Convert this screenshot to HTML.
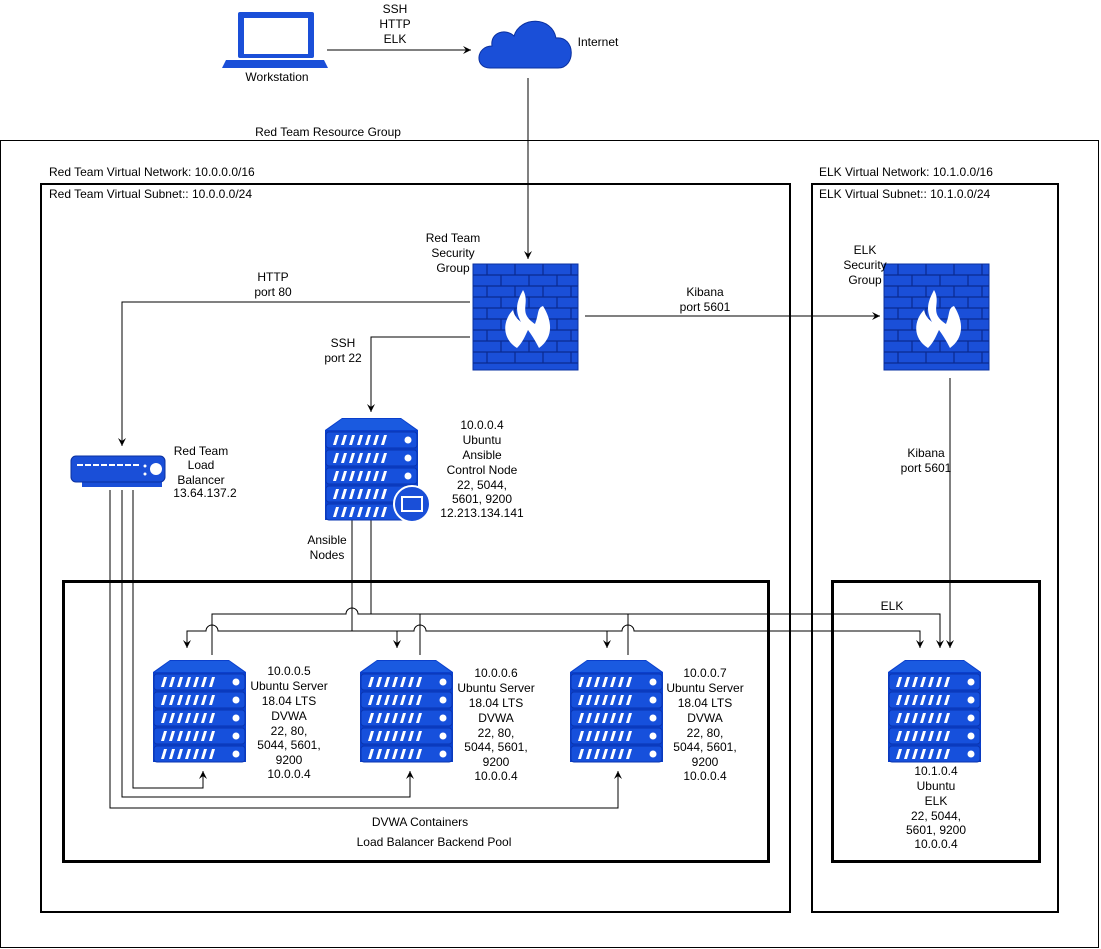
<!DOCTYPE html>
<html><head><meta charset="utf-8"><style>
body{margin:0;background:#fff}
svg{display:block}
text{font-family:"Liberation Sans",sans-serif;font-size:12px;fill:#000;text-anchor:middle}
</style></head><body>
<svg width="1101" height="949" viewBox="0 0 1101 949">
<defs>
<marker id="a" markerWidth="10" markerHeight="10" refX="5" refY="8" orient="auto-start-reverse" markerUnits="userSpaceOnUse" viewBox="0 0 10 10"><path d="M1,0 L5,9 L9,0 L5,3 Z" fill="#000" transform="rotate(0)"/></marker>
<marker id="d" markerWidth="10" markerHeight="10" refX="5" refY="9" orient="0" markerUnits="userSpaceOnUse"><path d="M1,1 L5,9 L9,1 L5,4 Z" fill="#000"/></marker>
<marker id="u" markerWidth="10" markerHeight="10" refX="5" refY="1" orient="0" markerUnits="userSpaceOnUse"><path d="M1,9 L5,1 L9,9 L5,6 Z" fill="#000"/></marker>
<marker id="r" markerWidth="10" markerHeight="10" refX="9" refY="5" orient="0" markerUnits="userSpaceOnUse"><path d="M1,1 L9,5 L1,9 L4,5 Z" fill="#000"/></marker>
<g id="srv">
<path d="M17,0 H76 L93,12 V102 H0 V12 Z" fill="#0a3fcc"/>
<path d="M17,1 H76 L91,12 H2 Z" fill="#1a5ae0"/>
<g fill="#fff">
<g id="row"><rect x="1" y="14" width="91" height="16" rx="3" fill="#1650dc" stroke="#0a35b0"/>
<path d="M8,27 l3,-10 h3 l-3,10z M16,27 l3,-10 h3 l-3,10z M24,27 l3,-10 h3 l-3,10z M32,27 l3,-10 h3 l-3,10z M40,27 l3,-10 h3 l-3,10z M48,27 l3,-10 h3 l-3,10z M56,27 l3,-10 h3 l-3,10z"/>
<circle cx="83" cy="22" r="3.5"/></g>
<use href="#row" y="18"/><use href="#row" y="36"/><use href="#row" y="54"/><use href="#row" y="72"/>
</g></g>
<g id="fw">
<rect width="105" height="106" fill="#1a4fd8" stroke="#0a30a0"/>
<g stroke="#0a2a90" stroke-width="1.2" fill="none">
<path d="M0,11H105M0,22H105M0,33H105M0,44H105M0,55H105M0,66H105M0,77H105M0,88H105M0,99H105"/>
<path d="M14,0V11M42,0V11M70,0V11M98,0V11M28,11V22M56,11V22M84,11V22M14,22V33M42,22V33M70,22V33M98,22V33M28,33V44M56,33V44M84,33V44M14,44V55M42,44V55M70,44V55M98,44V55M28,55V66M56,55V66M84,55V66M14,66V77M42,66V77M70,66V77M98,66V77M28,77V88M56,77V88M84,77V88M14,88V99M42,88V99M70,88V99M98,88V99"/>
</g>
<path d="M50,26 C58,40 44,48 62,60 C66,50 64,44 70,42 C80,58 80,74 66,84 C62,76 58,70 55,66 C52,72 50,78 44,84 C28,74 30,56 40,46 C42,54 46,56 48,58 C40,44 46,34 50,26Z" fill="#fff"/>
</g>
</defs>

<!-- containers -->
<rect x="0.5" y="140.5" width="1098" height="807" fill="none" stroke="#000"/>
<rect x="41" y="184" width="749" height="728" fill="none" stroke="#000" stroke-width="2"/>
<rect x="812" y="184" width="246" height="728" fill="none" stroke="#000" stroke-width="2"/>
<rect x="63.5" y="581.5" width="705" height="280" fill="none" stroke="#000" stroke-width="3"/>
<rect x="832.5" y="581.5" width="207" height="280" fill="none" stroke="#000" stroke-width="3"/>

<text x="328" y="136">Red Team Resource Group</text>
<text x="49" y="176" style="text-anchor:start">Red Team Virtual Network: 10.0.0.0/16</text>
<text x="49" y="198" style="text-anchor:start">Red Team Virtual Subnet:: 10.0.0.0/24</text>
<text x="819" y="176" style="text-anchor:start">ELK Virtual Network: 10.1.0.0/16</text>
<text x="819" y="198" style="text-anchor:start">ELK Virtual Subnet:: 10.1.0.0/24</text>

<!-- laptop -->
<g fill="#1a4fd8">
<rect x="238" y="12" width="76" height="46" rx="2"/>
<rect x="244" y="18" width="64" height="36" fill="#fff"/>
<path d="M226,60 H324 L328,68 H222 Z"/>
</g>
<text x="277" y="81">Workstation</text>
<!-- cloud -->
<path d="M490,68 C474,68 476,46 492,46 C490,32 506,28 514,36 C520,16 552,16 556,38 C576,36 576,68 558,68 Z" fill="#1a4fd8" stroke="#0a30a0"/>
<text x="598" y="46">Internet</text>
<text x="395" y="13">SSH</text><text x="395" y="28">HTTP</text><text x="395" y="43">ELK</text>
<line x1="327" y1="50" x2="471" y2="50" stroke="#000" marker-end="url(#r)"/>
<line x1="528" y1="78" x2="528" y2="259" stroke="#000" marker-end="url(#d)"/>

<use href="#fw" x="473" y="264"/>
<use href="#fw" x="884" y="264"/>
<text x="453" y="242">Red Team</text><text x="453" y="257">Security</text><text x="453" y="272">Group</text>
<text x="865" y="254">ELK</text><text x="865" y="269">Security</text><text x="865" y="269" dy="0"> </text><text x="865" y="269" dy="15">Group</text>

<g stroke="#000" fill="none">
<path d="M470,302 H122 V446" marker-end="url(#d)"/>
<path d="M470,337 H371 V412" marker-end="url(#d)"/>
<path d="M585,316 H880" marker-end="url(#r)"/>
<path d="M950,378 V648" marker-end="url(#d)"/>
<!-- LB lines -->
<path d="M133,490 V788 H203 V771" marker-end="url(#u)"/>
<path d="M122,490 V797 H410 V771" marker-end="url(#u)"/>
<path d="M110,490 V808 H618 V771" marker-end="url(#u)"/>
<!-- ansible lines -->
<path d="M352,520 V631"/>
<path d="M371,520 V614 H940 V648" marker-end="url(#d)"/>
<path d="M212,655 V614 H346 A6,6 0 0 1 358,614 H371"/>
<path d="M187,648 V631 H206 A6,6 0 0 1 218,631 H414 A6,6 0 0 1 426,631 H622 A6,6 0 0 1 634,631 H920 V648" marker-end="url(#d)"/>
<path d="M187,631 V648" marker-end="url(#d)"/>
<path d="M397,631 V648" marker-end="url(#d)"/>
<path d="M607,631 V648" marker-end="url(#d)"/>
<path d="M420,614 V655"/>
<path d="M628,614 V655"/>
</g>
<text x="273" y="281">HTTP</text><text x="273" y="296">port 80</text>
<text x="343" y="347">SSH</text><text x="343" y="362">port 22</text>
<text x="705" y="296">Kibana</text><text x="705" y="311">port 5601</text>
<text x="926" y="457">Kibana</text><text x="926" y="472">port 5601</text>
<text x="892" y="610">ELK</text>
<text x="327" y="544">Ansible</text><text x="327" y="559">Nodes</text>

<!-- load balancer -->
<rect x="82" y="478" width="80" height="9" fill="#1a4fd8"/>
<rect x="71" y="456" width="94" height="26" rx="5" fill="#1a4fd8" stroke="#0a30a0"/>
<path d="M77,465 h6 M85,465 h6 M93,465 h6 M101,465 h6 M109,465 h6 M117,465 h6 M125,465 h6 M133,465 h6" stroke="#fff" stroke-width="2"/>
<circle cx="156" cy="469" r="6" fill="#fff"/><circle cx="145" cy="466" r="1.5" fill="#fff"/><circle cx="145" cy="474" r="1.5" fill="#fff"/>
<text x="201" y="455">Red Team</text><text x="201" y="469">Load</text><text x="201" y="484">Balancer</text><text x="205" y="497">13.64.137.2</text>

<!-- ansible node -->
<use href="#srv" x="325" y="418"/>
<circle cx="412" cy="504" r="18" fill="#1a4fd8" stroke="#fff" stroke-width="2"/>
<rect x="402" y="497" width="20" height="14" fill="none" stroke="#fff" stroke-width="2"/>
<text x="482" y="429">10.0.0.4</text><text x="482" y="444">Ubuntu</text><text x="482" y="459">Ansible</text><text x="482" y="474">Control Node</text><text x="482" y="489">22, 5044,</text><text x="482" y="503">5601, 9200</text><text x="482" y="517">12.213.134.141</text>

<use href="#srv" x="153" y="660"/>
<use href="#srv" x="360" y="660"/>
<use href="#srv" x="570" y="660"/>
<use href="#srv" x="888" y="660"/>

<g>
<text x="289" y="675">10.0.0.5</text><text x="289" y="690">Ubuntu Server</text><text x="289" y="705">18.04 LTS</text><text x="289" y="720">DVWA</text><text x="289" y="735">22, 80,</text><text x="289" y="749">5044, 5601,</text><text x="289" y="764">9200</text><text x="289" y="778">10.0.0.4</text>
<text x="496" y="677">10.0.0.6</text><text x="496" y="692">Ubuntu Server</text><text x="496" y="707">18.04 LTS</text><text x="496" y="722">DVWA</text><text x="496" y="737">22, 80,</text><text x="496" y="751">5044, 5601,</text><text x="496" y="766">9200</text><text x="496" y="780">10.0.0.4</text>
<text x="705" y="677">10.0.0.7</text><text x="705" y="692">Ubuntu Server</text><text x="705" y="707">18.04 LTS</text><text x="705" y="722">DVWA</text><text x="705" y="737">22, 80,</text><text x="705" y="751">5044, 5601,</text><text x="705" y="766">9200</text><text x="705" y="780">10.0.0.4</text>
<text x="936" y="775">10.1.0.4</text><text x="936" y="790">Ubuntu</text><text x="936" y="805">ELK</text><text x="936" y="820">22, 5044,</text><text x="936" y="834">5601, 9200</text><text x="936" y="848">10.0.0.4</text>
</g>
<text x="420" y="826">DVWA Containers</text>
<text x="434" y="846">Load Balancer Backend Pool</text>
</svg>
</body></html>
